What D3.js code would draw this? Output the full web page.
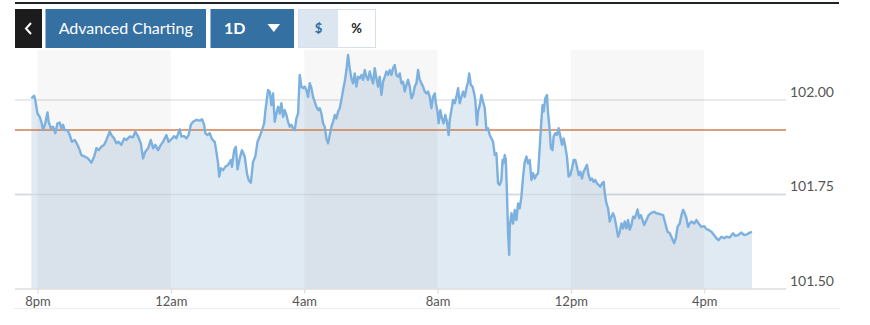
<!DOCTYPE html>
<html lang="en">
	<head>
		<meta charset="UTF-8" />
		<title>1D chart</title>
		<script src="https://d3js.org/d3.v7.min.js"></script>
		<style>
			body { margin: 0; background: #fff; font-family: Lato, "Open Sans", sans-serif; }
			svg { display: block; }
		</style>
	</head>
	<body>
		<svg id="chart" width="870" height="325"></svg>
		<script>
			// minutes after 8pm, and price
			var minutesAfter8pm = [
				-11, -6, -4, 0, 4, 7, 10, 14, 18, 20, 24, 28, 32, 36, 40, 43, 46, 49, 54, 58,
				62, 67, 72, 76, 79, 85, 91, 97, 102, 106, 110, 115, 120, 124, 130, 133, 138, 142, 146, 151,
				156, 160, 166, 172, 176, 181, 186, 190, 194, 199, 204, 208, 212, 217, 222, 226, 232, 236, 241, 246,
				250, 256, 259, 264, 268, 272, 276, 280, 286, 292, 296, 300, 302, 306, 310, 314, 319, 322, 325, 327,
				330, 334, 338, 343, 348, 350, 354, 357, 360, 364, 368, 373, 377, 380, 384, 388, 392, 396, 400, 404,
				408, 410, 413, 415, 418, 421, 424, 427, 430, 433, 436, 439, 442, 445, 448, 451, 454, 457, 460, 463,
				466, 469, 472, 475, 478, 481, 484, 487, 490, 493, 496, 499, 502, 505, 508, 511, 514, 517, 520, 523,
				526, 529, 532, 535, 538, 541, 544, 547, 550, 553, 556, 559, 562, 565, 568, 571, 574, 577, 580, 583,
				586, 589, 592, 595, 598, 601, 604, 607, 610, 613, 616, 619, 622, 625, 628, 631, 634, 637, 640, 643,
				646, 649, 652, 655, 658, 661, 664, 667, 670, 673, 676, 679, 682, 685, 688, 691, 694, 697, 700, 703,
				706, 709, 712, 715, 717, 720, 722, 725, 728, 731, 734, 737, 740, 742, 745, 748, 751, 754, 757, 760,
				763, 766, 769, 772, 775, 777, 780, 783, 786, 788, 791, 793, 796, 799, 802, 805, 808, 811, 814, 817,
				820, 823, 826, 829, 832, 835, 837, 839, 841, 843, 845, 847, 849, 850, 853, 856, 859, 862, 865, 868,
				871, 874, 877, 880, 883, 886, 889, 892, 895, 898, 901, 904, 907, 909, 911, 914, 917, 919, 922, 924,
				927, 929, 932, 935, 938, 941, 944, 947, 950, 953, 956, 959, 962, 965, 968, 971, 974, 977, 980, 983,
				986, 989, 992, 995, 998, 1001, 1004, 1007, 1010, 1013, 1016, 1019, 1021, 1024, 1027, 1030, 1033, 1036, 1039, 1042,
				1045, 1048, 1051, 1054, 1057, 1060, 1063, 1066, 1069, 1072, 1075, 1078, 1080, 1083, 1086, 1089, 1092, 1096, 1100, 1105,
				1110, 1114, 1120, 1126, 1130, 1134, 1138, 1142, 1146, 1149, 1152, 1156, 1159, 1162, 1165, 1168, 1171, 1174, 1177, 1182,
				1186, 1190, 1195, 1200, 1204, 1208, 1213, 1218, 1222, 1226, 1231, 1236, 1240, 1246, 1252, 1256, 1261, 1267, 1272, 1278,
				1282, 1286
			];
			var price = [
				102.003, 102.010, 101.999, 101.963, 101.954, 101.941, 101.919, 101.937, 101.966, 101.941, 101.924, 101.928, 101.911, 101.937, 101.939, 101.924, 101.933, 101.919, 101.919, 101.906,
				101.888, 101.893, 101.880, 101.866, 101.853, 101.849, 101.844, 101.833, 101.849, 101.871, 101.866, 101.875, 101.880, 101.893, 101.915, 101.906, 101.897, 101.884, 101.888, 101.880,
				101.897, 101.893, 101.902, 101.900, 101.915, 101.902, 101.884, 101.844, 101.862, 101.871, 101.893, 101.871, 101.880, 101.866, 101.880, 101.888, 101.906, 101.888, 101.895, 101.903,
				101.897, 101.921, 101.902, 101.903, 101.897, 101.906, 101.933, 101.941, 101.946, 101.944, 101.948, 101.933, 101.911, 101.906, 101.911, 101.895, 101.888, 101.862, 101.831, 101.796,
				101.818, 101.813, 101.822, 101.827, 101.840, 101.822, 101.866, 101.875, 101.815, 101.844, 101.866, 101.849, 101.805, 101.787, 101.780, 101.835, 101.849, 101.888, 101.902, 101.919,
				101.937, 101.968, 102.003, 102.025, 102.021, 101.985, 102.016, 101.941, 101.963, 101.981, 101.963, 101.990, 101.954, 101.972, 101.959, 101.941, 101.928, 101.933, 101.924, 101.919,
				101.950, 101.963, 102.065, 102.034, 102.030, 102.034, 102.025, 102.007, 102.043, 102.030, 102.007, 101.994, 101.981, 101.972, 101.977, 101.963, 101.937, 101.928, 101.897, 101.884,
				101.906, 101.928, 101.941, 101.959, 101.950, 101.968, 101.977, 101.999, 102.025, 102.047, 102.078, 102.118, 102.083, 102.056, 102.043, 102.069, 102.034, 102.060, 102.056, 102.065,
				102.052, 102.078, 102.060, 102.052, 102.074, 102.056, 102.043, 102.083, 102.056, 102.034, 102.060, 102.012, 102.047, 102.060, 102.074, 102.065, 102.078, 102.065, 102.083, 102.091,
				102.065, 102.060, 102.069, 102.043, 102.047, 102.021, 102.038, 102.052, 102.034, 102.003, 102.012, 102.034, 102.043, 102.078, 102.052, 102.043, 102.034, 102.021, 102.016, 102.021,
				102.007, 101.977, 102.007, 102.016, 101.990, 101.968, 101.937, 101.972, 101.950, 101.937, 101.959, 101.941, 101.906, 101.946, 101.972, 101.999, 101.990, 102.007, 102.030, 101.990,
				102.007, 102.021, 102.007, 102.030, 102.047, 102.069, 102.038, 102.034, 102.016, 101.999, 101.933, 101.968, 101.985, 102.012, 101.994, 101.977, 101.919, 101.924, 101.906, 101.897,
				101.888, 101.853, 101.858, 101.778, 101.774, 101.787, 101.840, 101.831, 101.853, 101.840, 101.752, 101.646, 101.589, 101.663, 101.699, 101.672, 101.708, 101.681, 101.725, 101.712,
				101.743, 101.796, 101.835, 101.849, 101.831, 101.840, 101.787, 101.805, 101.791, 101.800, 101.805, 101.875, 101.946, 101.985, 101.968, 102.003, 102.012, 101.963, 101.919, 101.871,
				101.866, 101.902, 101.911, 101.906, 101.924, 101.902, 101.880, 101.897, 101.875, 101.849, 101.796, 101.800, 101.818, 101.840, 101.840, 101.822, 101.800, 101.809, 101.791, 101.809,
				101.818, 101.827, 101.800, 101.787, 101.791, 101.782, 101.787, 101.778, 101.774, 101.769, 101.778, 101.782, 101.752, 101.725, 101.712, 101.677, 101.690, 101.699, 101.686, 101.663,
				101.637, 101.650, 101.672, 101.659, 101.677, 101.659, 101.681, 101.655, 101.668, 101.690, 101.686, 101.699, 101.709, 101.686, 101.694, 101.681, 101.668, 101.681, 101.694, 101.700,
				101.703, 101.699, 101.697, 101.694, 101.672, 101.650, 101.646, 101.633, 101.620, 101.633, 101.663, 101.672, 101.694, 101.708, 101.699, 101.686, 101.663, 101.672, 101.677, 101.672,
				101.681, 101.672, 101.663, 101.665, 101.657, 101.655, 101.650, 101.641, 101.633, 101.628, 101.637, 101.633, 101.637, 101.635, 101.646, 101.639, 101.641, 101.648, 101.641, 101.644,
				101.648, 101.650
			];
			var yTicks = [101.5, 101.75, 102.0];
			var previousClose = 101.919;
			var buttonLabels = ["Advanced Charting", "1D"];

			var svg = d3.select("#chart");
			var start = new Date(2024, 0, 1, 20, 0);
			var end = new Date(2024, 0, 2, 16, 0);
			var data = minutesAfter8pm.map(function (m, i) {
				return { t: d3.timeMinute.offset(start, m), v: price[i] };
			});

			var left = 15, right = 786;
			var x = d3.scaleTime().domain([start, end]).range([37.5, 704.2]);
			var y = d3.scaleLinear().domain([101.5, 102.0]).range([288.5, 99.5]);
			var plotTop = 50;

			// top rule
			svg.append("rect").attr("x", 15).attr("y", 2).attr("width", 824).attr("height", 2).attr("fill", "#1f2326");

			// toolbar
			svg.append("rect").attr("x", 15).attr("y", 9).attr("width", 27).attr("height", 39).attr("fill", "#1c1c1c");
			svg.append("path").attr("d", "M31,23 L26,28.5 L31,34").attr("fill", "none").attr("stroke", "#fff").attr("stroke-width", 2);
			svg.append("rect").attr("x", 45.5).attr("y", 9).attr("width", 160.5).attr("height", 39).attr("fill", "#3570a3");
			svg.append("text").attr("x", 125.7).attr("y", 34).attr("text-anchor", "middle")
				.attr("fill", "#fff").style("font-size", "16px").text(buttonLabels[0]);
			svg.append("rect").attr("x", 210.5).attr("y", 9).attr("width", 83.5).attr("height", 39).attr("fill", "#3570a3");
			svg.append("text").attr("x", 224).attr("y", 34).attr("fill", "#fff")
				.style("font-size", "16px").style("font-weight", "bold").text(buttonLabels[1]);
			svg.append("path").attr("d", "M267.5,24 L280,24 L273.75,32 Z").attr("fill", "#fff");
			svg.append("rect").attr("x", 298.5).attr("y", 9.5).attr("width", 77).attr("height", 38)
				.attr("fill", "#fff").attr("stroke", "#d5e0ea");
			svg.append("rect").attr("x", 299).attr("y", 10).attr("width", 39).attr("height", 37).attr("fill", "#dbe6f0");
			svg.append("text").attr("x", 318.5).attr("y", 33).attr("text-anchor", "middle").attr("fill", "#2f6da3")
				.style("font-size", "13px").style("font-weight", "bold").text("$");
			svg.append("text").attr("x", 356.5).attr("y", 33).attr("text-anchor", "middle").attr("fill", "#222")
				.style("font-size", "13px").style("font-weight", "bold").text("%");

			// grid lines
			svg.append("g").selectAll("line").data(yTicks.slice(1)).enter().append("line")
				.attr("x1", left).attr("x2", right)
				.attr("y1", function (d) { return y(d) + 0.5; }).attr("y2", function (d) { return y(d) + 0.5; })
				.attr("stroke", "#e3e3e3").attr("stroke-width", 1.5);

			// area and line
			var area = d3.area().x(function (d) { return x(d.t); }).y0(y(101.5)).y1(function (d) { return y(d.v); });
			var line = d3.line().x(function (d) { return x(d.t); }).y(function (d) { return y(d.v); });
			svg.append("path").datum(data).attr("d", area).attr("fill", "#e0eaf2");

			// grid line shows through the area
			svg.append("line").attr("x1", left).attr("x2", right)
				.attr("y1", y(101.75) + 0.5).attr("y2", y(101.75) + 0.5)
				.attr("stroke", "#d0dae2").attr("stroke-width", 1.3);

			// alternating time bands: 8pm-12am, 4am-8am, 12pm-4pm
			var bandStarts = [0, 8, 16].map(function (h) { return d3.timeHour.offset(start, h); });
			svg.append("g").selectAll("rect").data(bandStarts).enter().append("rect")
				.attr("x", function (d) { return x(d); })
				.attr("y", plotTop)
				.attr("width", function (d) { return x(d3.timeHour.offset(d, 4)) - x(d); })
				.attr("height", y(101.5) - plotTop)
				.attr("fill", "rgba(0,0,0,0.03)");

			// previous close
			svg.append("line").attr("x1", left).attr("x2", right)
				.attr("y1", y(previousClose)).attr("y2", y(previousClose))
				.attr("stroke", "#cf7f4f").attr("stroke-width", 1.5);

			svg.append("path").datum(data).attr("d", line)
				.attr("fill", "none").attr("stroke", "#7cb0de").attr("stroke-width", 2.4)
				.attr("stroke-linejoin", "round");

			// x axis
			var xAxis = d3.axisBottom(x).ticks(d3.timeHour.every(4)).tickSize(5).tickPadding(3)
				.tickFormat(function (d) { return d3.timeFormat("%-I%p")(d).toLowerCase(); });
			var gx = svg.append("g").attr("transform", "translate(0," + y(101.5) + ")").call(xAxis);
			gx.select(".domain").remove();
			gx.selectAll(".tick line").attr("stroke", "#d8d8d8");
			gx.selectAll(".tick text").attr("fill", "#555").style("font-family", "Lato, sans-serif").style("font-size", "13px");
			svg.append("line").attr("x1", left).attr("x2", right).attr("y1", y(101.5) + 0.5).attr("y2", y(101.5) + 0.5)
				.attr("stroke", "#dcdcdc").attr("stroke-width", 1.5);
			svg.append("line").attr("x1", 14).attr("x2", 840).attr("y1", 308.5).attr("y2", 308.5)
				.attr("stroke", "#ececec");

			// y labels
			svg.append("g").selectAll("text").data(yTicks).enter().append("text")
				.attr("x", 790).attr("y", function (d) { return y(d) - 3; })
				.attr("fill", "#555").style("font-size", "14px")
				.text(function (d) { return d3.format(".2f")(d); });
		</script>
	</body>
</html>
